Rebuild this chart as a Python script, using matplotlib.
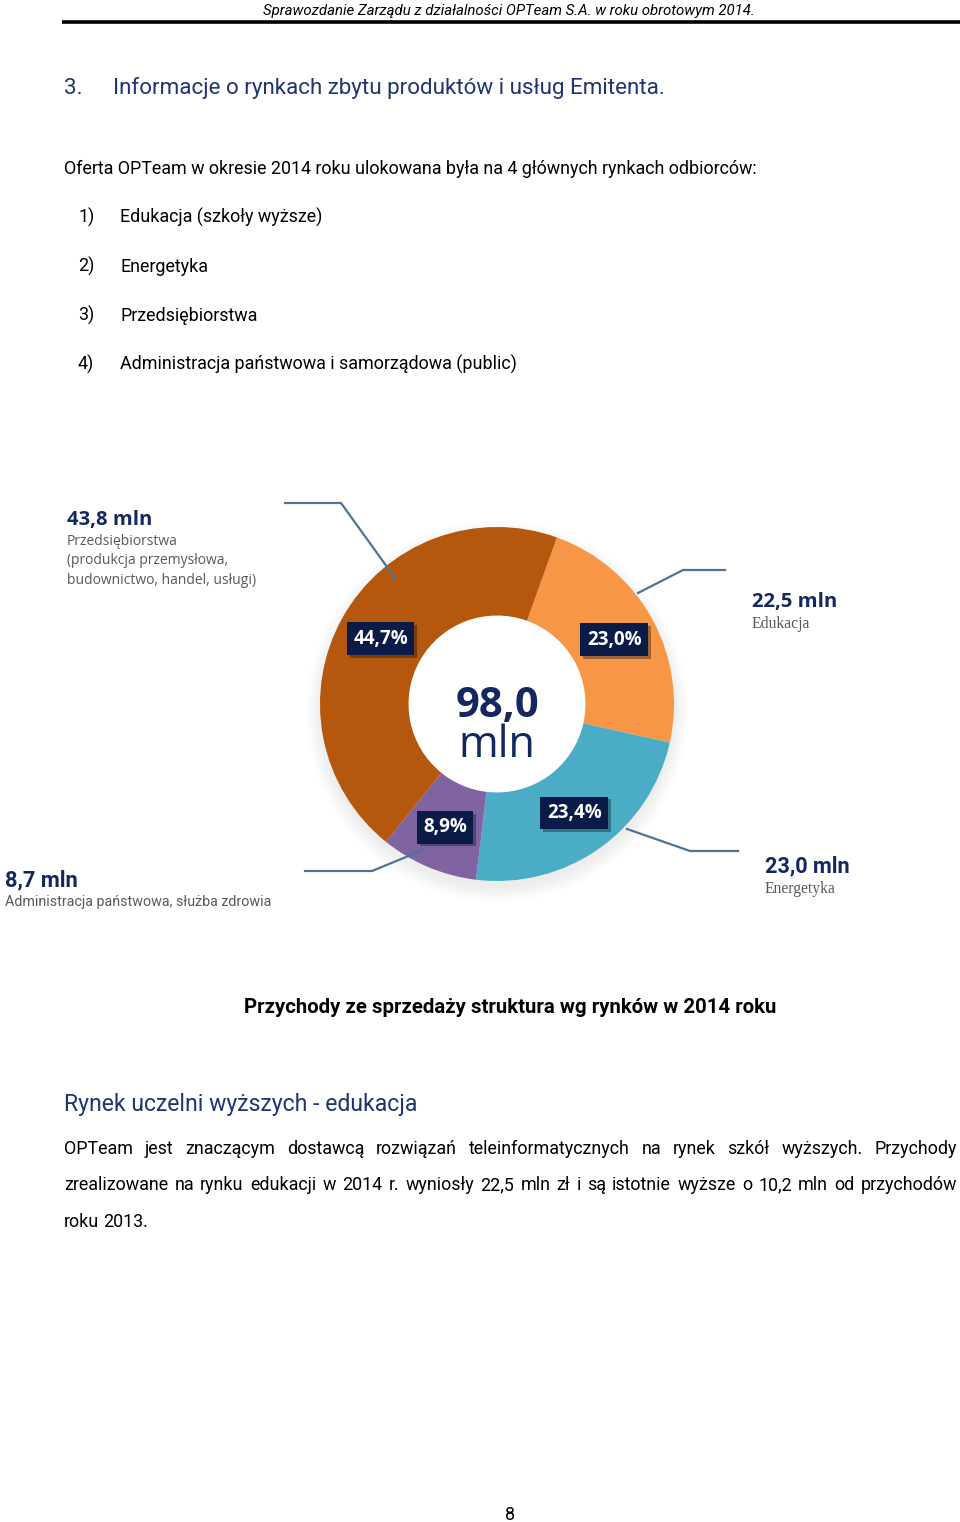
import matplotlib

matplotlib.use("Agg")
import matplotlib.pyplot as plt  # noqa: E402
import matplotlib.patheffects as pe  # noqa: E402

W, H = 960, 1522
DPI = 100

NARROW = ["Roboto", "DejaVu Sans"]
SANS = ["Open Sans", "DejaVu Sans"]
SERIF = ["Liberation Serif", "DejaVu Serif"]
NAVY = "#14275E"
HEAD_BLUE = "#1E3473"
GREY = "#595959"
LEADER = "#4E7395"

# ---- data -------------------------------------------------------------
markets = ["Edukacja", "Energetyka", "Administracja", "Przedsiębiorstwa"]
shares = [23.0, 23.4, 8.9, 44.7]          # % of total revenue
revenue_mln = [22.5, 23.0, 8.7, 43.8]
market_desc = [
    "Edukacja",
    "Energetyka",
    "Administracja państwowa, służba zdrowia",
    "Przedsiębiorstwa\n(produkcja przemysłowa,\nbudownictwo, handel, usługi)",
]
colors = ["#F79646", "#4BACC6", "#8064A2", "#B5570C"]
total_mln = 98.0

list_items = [
    "Edukacja (szkoły wyższe)",
    "Energetyka",
    "Przedsiębiorstwa",
    "Administracja państwowa i samorządowa (public)",
]
paragraph = [
    "OPTeam jest znaczącym dostawcą rozwiązań teleinformatycznych na rynek szkół wyższych. Przychody",
    "zrealizowane na rynku edukacji w 2014 r. wyniosły 22,5 mln zł i są istotnie wyższe o 10,2 mln od przychodów",
    "roku 2013.",
]

fig = plt.figure(figsize=(W / DPI, H / DPI), dpi=DPI)
fig.patch.set_facecolor("white")
renderer = fig.canvas.get_renderer()

# ---- donut ------------------------------------------------------------
cx, cy, R = 497, 704, 177
pax = fig.add_axes([(cx - R) / W, (H - cy - R) / H, 2 * R / W, 2 * R / H])

# soft shadow, mostly below the ring
for k in range(6):
    pax.add_patch(plt.Circle((0.0, -0.04), 1.0 + 0.015 * k, color="black",
                             alpha=0.012, lw=0, clip_on=False, zorder=0))
pax.add_patch(plt.Circle((0, 0), 0.5, color="white", lw=0, zorder=1))

wedges, _, pcts = pax.pie(
    shares, colors=colors, startangle=70.2, counterclock=False, radius=1.0,
    wedgeprops=dict(width=0.5, linewidth=0),
    autopct=lambda p: f"{p:.1f}%".replace(".", ","), pctdistance=0.755,
    textprops=dict(color="white", fontsize=13.5, fontweight="bold", family=SANS),
)
for w in wedges:
    w.set_zorder(2)
for t in pcts:
    t.set_bbox(dict(boxstyle="square,pad=0.34", fc="#0B1B47", ec="none"))
    t.get_bbox_patch().set_path_effects(
        [pe.SimplePatchShadow(offset=(2, -2), alpha=0.35), pe.Normal()])
    t.set_zorder(5)
pax.set_xlim(-1, 1)
pax.set_ylim(-1, 1)
pax.set_aspect("equal")
pax.axis("off")

pax.text(0, -0.075, f"{total_mln:.1f}".replace(".", ","), ha="center", va="baseline",
         fontsize=30, fontweight="bold", color=NAVY, family=SANS)
pax.text(0, -0.30, "mln", ha="center", va="baseline", fontsize=31,
         color=NAVY, family=SANS)

# ---- page overlay (pixel coordinates) ---------------------------------
ax = fig.add_axes([0, 0, 1, 1])
ax.set_xlim(0, W)
ax.set_ylim(H, 0)
ax.axis("off")
ax.patch.set_alpha(0)


def fit(text, width, **kw):
    """font size that makes `text` span `width` pixels"""
    t = ax.text(0, 0, text, fontsize=10, **kw)
    w = t.get_window_extent(renderer).width
    t.remove()
    return 10 * width / w


header = "Sprawozdanie Zarządu z działalności OPTeam S.A. w roku obrotowym 2014."
ax.text(263, 15, header, va="baseline", style="italic", family=NARROW,
        fontsize=fit(header, 494, style="italic", family=NARROW))
ax.plot([62, 960], [22, 22], color="black", lw=2.6, solid_capstyle="butt")

heading = "Informacje o rynkach zbytu produktów i usług Emitenta."
hs = fit(heading, 553, family=NARROW)
ax.text(64, 94, "3.", fontsize=hs, color=HEAD_BLUE, family=NARROW, va="baseline")
ax.text(113, 94, heading, fontsize=hs, color=HEAD_BLUE, family=NARROW, va="baseline")

intro = "Oferta OPTeam w okresie 2014 roku ulokowana była na 4 głównych rynkach odbiorców:"
bs = fit(intro, 693, family=NARROW)
ax.text(64, 174, intro, fontsize=bs, family=NARROW, va="baseline")
for i, item in enumerate(list_items):
    y = 223 + 49 * i
    ax.text(78, y, f"{i + 1})", fontsize=bs, family=NARROW, va="baseline")
    ax.text(120, y, item, fontsize=bs, family=NARROW, va="baseline")

# leader lines
leaders = [
    ([638, 683, 725], [593, 570, 570]),
    ([627, 690, 738], [829, 851, 851]),
    ([423, 372, 305], [850, 871, 871]),
    ([395, 341, 285], [578, 503, 503]),
]
for xs, ys in leaders:
    ax.plot(xs, ys, color=LEADER, lw=1.6, zorder=6)

# market annotations: value line width, description width in the reference
ann = [
    dict(x=752, y=607, big=SANS, bw=85, desc=SERIF, dw=59),
    dict(x=765, y=872, big=NARROW, bw=84, desc=SERIF, dw=71),
    dict(x=5, y=886, big=NARROW, bw=73, desc=NARROW, dw=267),
    dict(x=67, y=525, big=SANS, bw=85, desc=SANS, dw=189),
]
for i, a in enumerate(ann):
    val = f"{revenue_mln[i]:.1f} mln".replace(".", ",")
    ax.text(a["x"], a["y"], val, color=NAVY, family=a["big"], va="baseline",
            fontweight="bold",
            fontsize=fit(val, a["bw"], family=a["big"], fontweight="bold"))
    longest = max(market_desc[i].split("\n"), key=len)
    ds = fit(longest, a["dw"], family=a["desc"])
    ax.text(a["x"], a["y"] + 9, market_desc[i], fontsize=ds, color=GREY,
            family=a["desc"], va="top", linespacing=1.4)

caption = "Przychody ze sprzedaży struktura wg rynków w 2014 roku"
ax.text(244, 1013, caption, va="baseline", fontweight="bold", family=NARROW,
        fontsize=fit(caption, 533, fontweight="bold", family=NARROW))

sub = "Rynek uczelni wyższych - edukacja"
ax.text(64, 1111, sub, color=HEAD_BLUE, family=NARROW, va="baseline",
        fontsize=fit(sub, 354, family=NARROW))

# justified paragraph
x0, x1 = 64, 957
for j, line in enumerate(paragraph):
    y = 1154 + 36.5 * j
    words = line.split(" ")
    texts = [ax.text(0, y, w, fontsize=bs, family=NARROW, va="baseline") for w in words]
    widths = [t.get_window_extent(renderer).width for t in texts]
    last = j == len(paragraph) - 1
    gap = bs * 0.3 if last else (x1 - x0 - sum(widths)) / (len(words) - 1)
    x = x0
    for t, w in zip(texts, widths):
        t.set_x(x)
        x += w + gap

ax.text(510, 1520, "8", ha="center", va="baseline", fontsize=bs, family=NARROW)

fig.savefig("out.png", dpi=DPI, facecolor="white")
